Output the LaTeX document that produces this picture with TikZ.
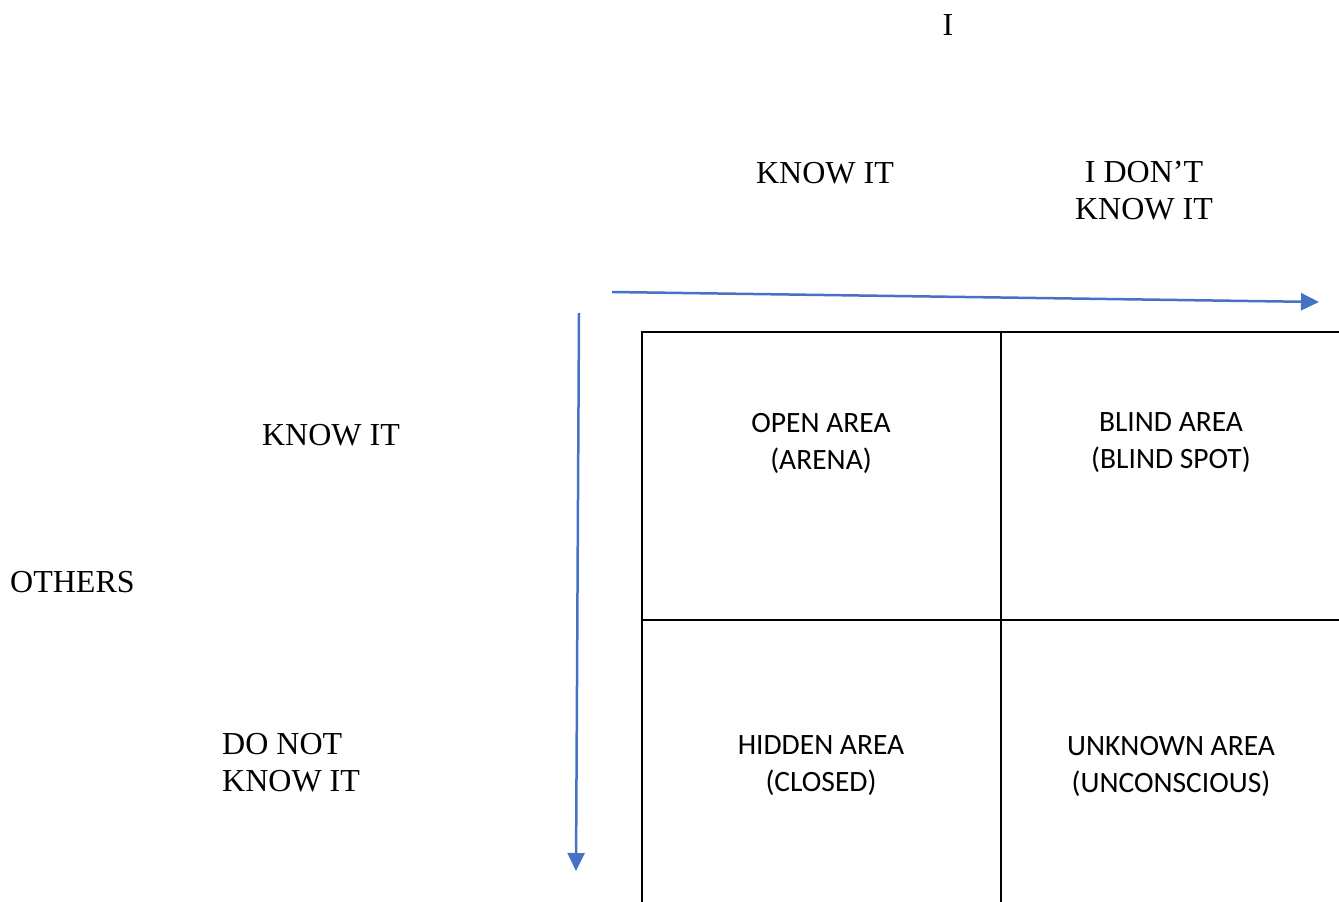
\documentclass[tikz,border=0pt]{standalone}
\usepackage{fontspec}
\setmainfont{Liberation Serif}
\newfontfamily\boxfont{Carlito}
\usetikzlibrary{arrows.meta}
\definecolor{officeblue}{HTML}{4472C4}
\begin{document}
\begin{tikzpicture}[x=1pt,y=-1pt,
  lbl/.style={font=\fontsize{32}{37}\selectfont, align=center, inner sep=0pt},
  lblleft/.style={font=\fontsize{32}{37}\selectfont, align=left, inner sep=0pt},
  cell/.style={font=\boxfont\fontsize{29.5}{37}\selectfont, align=center, inner sep=0pt},
  axis/.style={draw=officeblue, line width=2.5pt, -{Triangle[length=18pt,width=17pt]}},
  grid/.style={draw=black, line width=2.2pt}]
\useasboundingbox (0,0) rectangle (1339,902);
% grid
\draw[grid] (642,902) -- (642,332) -- (1339,332);
\draw[grid] (1001,332) -- (1001,902);
\draw[grid] (642,620) -- (1339,620);
% axes
\coordinate (hs) at (612,292);
\coordinate (he) at (1319,302);
\coordinate (vs) at (579,313);
\coordinate (ve) at (576,871);
\draw[axis] (hs) -- (he);
\draw[axis] (vs) -- (ve);
% labels
\node[lbl] (i) at (948,25) {I};
\node[lbl] (ik) at (825,173) {KNOW IT};
\node[lbl] (idk) at (1144,191) {I DON’T\\KNOW IT};
\node[lbl] (ok) at (331,435) {KNOW IT};
\node[lbl,anchor=west] (oth) at (10,582) {OTHERS};
\node[lblleft,anchor=west] (odk) at (222,763) {DO NOT\\KNOW IT};
% cells
\node[cell] (open) at (821,443) {OPEN AREA\\(ARENA)};
\node[cell] (blind) at (1171,443) {BLIND AREA\\(BLIND SPOT)};
\node[cell] (hidden) at (821,766) {HIDDEN AREA\\(CLOSED)};
\node[cell] (unknown) at (1171,766) {UNKNOWN AREA\\(UNCONSCIOUS)};
\end{tikzpicture}
\end{document}
